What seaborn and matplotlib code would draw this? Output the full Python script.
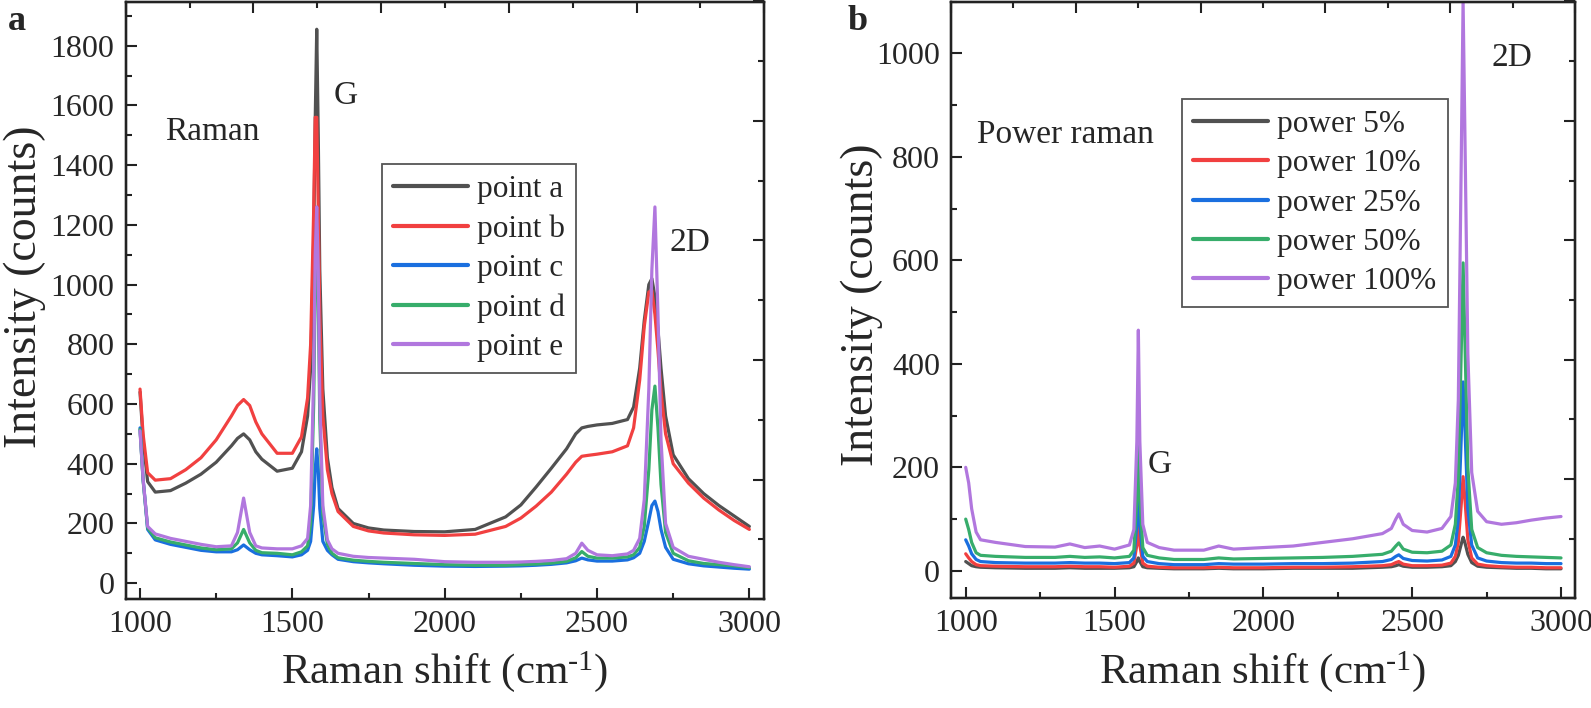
import numpy as np
import pandas as pd
import matplotlib
matplotlib.use("Agg")
import matplotlib.pyplot as plt
import seaborn as sns
from matplotlib.ticker import MultipleLocator, NullFormatter

sns.set_theme(style="ticks")
plt.rcParams['font.family'] = ['Liberation Serif', 'DejaVu Serif']
plt.rcParams['mathtext.fontset'] = 'custom'
plt.rcParams['mathtext.rm'] = 'Liberation Serif'
plt.rcParams['mathtext.it'] = 'Liberation Serif:italic'
plt.rcParams['mathtext.bf'] = 'Liberation Serif:bold'

# ---------------- Panel a data ----------------
shift_a = [1000, 1010, 1025, 1050, 1100, 1150, 1200, 1250, 1300, 1320, 1340, 1360, 1380, 1400, 1450,
           1500, 1530, 1550, 1560, 1570, 1575, 1580, 1585, 1590, 1600, 1615, 1630, 1650, 1700, 1750,
           1800, 1900, 2000, 2100, 2200, 2250, 2300, 2350, 2400, 2430, 2450, 2470, 2500, 2550, 2600,
           2620, 2640, 2655, 2670, 2680, 2690, 2700, 2710, 2725, 2750, 2800, 2850, 2900, 2950, 3000]

point_a = [640, 480, 340, 305, 310, 335, 365, 405, 460, 485, 500, 480, 440, 415, 375,
           385, 440, 560, 720, 1150, 1550, 1855, 1500, 1050, 650, 420, 320, 250, 200, 185,
           178, 173, 172, 180, 222, 262, 322, 385, 450, 500, 520, 525, 530, 535, 548,
           590, 720, 880, 1000, 1020, 960, 850, 720, 560, 430, 350, 300, 260, 225, 190]

point_b = [650, 500, 370, 345, 350, 380, 420, 480, 560, 595, 615, 595, 540, 500, 435,
           435, 490, 620, 800, 1250, 1560, 1560, 1250, 900, 560, 380, 300, 240, 190, 175,
           168, 162, 160, 164, 190, 218, 258, 305, 365, 405, 425, 428, 432, 440, 460,
           520, 680, 860, 975, 980, 900, 780, 640, 500, 400, 335, 285, 245, 210, 180]

point_c = [520, 350, 180, 145, 130, 120, 110, 105, 105, 112, 128, 112, 100, 95, 92,
           88, 95, 110, 140, 260, 380, 450, 380, 250, 140, 110, 95, 80, 72, 68,
           65, 60, 57, 56, 57, 58, 60, 63, 68, 75, 84, 78, 74, 74, 78,
           85, 100, 140, 210, 260, 275, 240, 180, 120, 80, 65, 58, 54, 50, 47]

point_d = [515, 345, 185, 152, 138, 128, 118, 112, 115, 135, 180, 135, 110, 102, 100,
           95, 105, 125, 200, 600, 1000, 1180, 950, 550, 230, 130, 100, 85, 77, 73,
           70, 66, 62, 60, 60, 62, 64, 67, 73, 85, 106, 90, 84, 84, 88,
           95, 120, 190, 380, 580, 660, 520, 330, 170, 100, 75, 66, 62, 58, 52]

point_e = [510, 350, 190, 165, 150, 140, 130, 122, 125, 170, 285, 170, 125, 118, 115,
           115, 125, 150, 260, 700, 1100, 1260, 1050, 620, 260, 145, 115, 100, 90, 86,
           84, 80, 72, 70, 70, 71, 73, 76, 82, 100, 134, 110, 95, 92, 98,
           110, 150, 280, 650, 1050, 1260, 900, 480, 200, 120, 90, 80, 70, 62, 55]

labels_a = ["point a", "point b", "point c", "point d", "point e"]

# ---------------- Panel b data ----------------
shift_b = [1000, 1010, 1020, 1035, 1050, 1100, 1200, 1300, 1350, 1400, 1450, 1500, 1550, 1565, 1575,
           1580, 1585, 1595, 1610, 1650, 1700, 1800, 1850, 1900, 2000, 2100, 2200, 2300, 2400, 2430,
           2445, 2455, 2470, 2500, 2550, 2600, 2630, 2645, 2655, 2665, 2671, 2677, 2687, 2700, 2720,
           2750, 2800, 2850, 2900, 2950, 3000]

power_5 = [18, 14, 10, 8, 7, 6, 5, 5, 6, 5, 5, 5, 6, 8, 18,
           25, 18, 8, 6, 5, 4, 4, 5, 4, 4, 5, 5, 5, 7, 8,
           10, 12, 9, 7, 7, 8, 10, 18, 30, 52, 65, 55, 32, 16, 9,
           7, 6, 5, 5, 4, 4]

power_10 = [33, 25, 18, 12, 10, 9, 8, 8, 9, 8, 8, 7, 9, 15, 50,
            90, 50, 15, 9, 7, 6, 6, 7, 6, 6, 7, 7, 8, 10, 12,
            16, 18, 13, 10, 10, 11, 15, 28, 55, 130, 182, 140, 60, 25, 13,
            10, 8, 7, 7, 6, 6]

power_25 = [60, 48, 33, 22, 18, 16, 15, 15, 16, 15, 15, 14, 16, 25, 90,
            160, 90, 28, 18, 14, 12, 12, 14, 13, 13, 14, 14, 15, 18, 22,
            28, 31, 24, 20, 19, 21, 28, 50, 100, 260, 365, 280, 120, 50, 25,
            19, 16, 15, 15, 14, 14]

power_50 = [100, 80, 55, 35, 30, 28, 26, 26, 28, 26, 27, 25, 28, 40, 140,
            250, 140, 45, 30, 25, 22, 22, 25, 23, 24, 25, 26, 28, 32, 38,
            48, 54, 42, 36, 35, 38, 50, 90, 180, 430, 595, 450, 200, 80, 45,
            35, 30, 28, 27, 26, 25]

power_100 = [200, 170, 120, 75, 60, 55, 47, 46, 52, 45, 48, 42, 50, 80, 250,
             465, 250, 90, 55, 45, 40, 40, 48, 42, 45, 48, 55, 62, 72, 82,
             100, 110, 90, 78, 75, 82, 105, 170, 330, 800, 1100, 850, 420, 190, 115,
             95, 90, 93, 98, 102, 105]

labels_b = ["power 5%", "power 10%", "power 25%", "power 50%", "power 100%"]

colors = ['#515151', '#F14040', '#1A6FDF', '#37AD6B', '#B177DE']

df_a = pd.DataFrame({
    "shift": shift_a * 5,
    "intensity": point_a + point_b + point_c + point_d + point_e,
    "series": sum([[lab] * len(shift_a) for lab in labels_a], []),
})
df_b = pd.DataFrame({
    "shift": shift_b * 5,
    "intensity": power_5 + power_10 + power_25 + power_50 + power_100,
    "series": sum([[lab] * len(shift_b) for lab in labels_b], []),
})

W, H = 1591, 708
fig = plt.figure(figsize=(W / 100, H / 100), dpi=100)
ax1 = fig.add_axes([125.7 / W, 1 - 599 / H, (764.3 - 125.7) / W, (599 - 1.5) / H])
ax2 = fig.add_axes([951 / W, 1 - 598.3 / H, (1575 - 951) / W, (598.3 - 1.5) / H])

sns.lineplot(data=df_a, x="shift", y="intensity", hue="series", hue_order=labels_a,
             palette=colors, estimator=None, sort=False, lw=2.3, ax=ax1)
sns.lineplot(data=df_b, x="shift", y="intensity", hue="series", hue_order=labels_b,
             palette=colors, estimator=None, sort=False, lw=2.3, ax=ax2)

XLABEL = "Raman shift (cm$^{\\mathregular{\u2010}\\mathregular{1}}$)"

def style_axes(ax, xlim, ylim):
    ax.set_xlim(*xlim)
    ax.set_ylim(*ylim)
    ax.xaxis.set_major_locator(MultipleLocator(500))
    ax.xaxis.set_minor_locator(MultipleLocator(250))
    ax.yaxis.set_major_locator(MultipleLocator(200))
    ax.yaxis.set_minor_locator(MultipleLocator(100))
    ax.tick_params(axis='both', which='major', direction='in', length=8, width=1.5,
                   labelsize=23, pad=8, top=False, right=False, color='#222222')
    ax.tick_params(axis='both', which='minor', direction='in', length=4.5, width=1.5,
                   top=False, right=False, color='#222222')
    for s in ax.spines.values():
        s.set_linewidth(1.6)
        s.set_color('#222222')
        s.set_visible(True)
    ax.set_xlabel(XLABEL, fontsize=31)
    ax.set_ylabel("Intensity (counts)", fontsize=33)
    ax.grid(False)
    # Frame ticks on top and right (separate 0-1 scale)
    axt = ax.twiny()
    axt.set_xlim(0, 1)
    axt.xaxis.set_major_locator(MultipleLocator(0.2))
    axt.xaxis.set_minor_locator(MultipleLocator(0.1))
    axt.xaxis.set_major_formatter(NullFormatter())
    axt.tick_params(axis='x', which='major', direction='in', length=8, width=1.5, color='#222222')
    axt.tick_params(axis='x', which='minor', direction='in', length=4.5, width=1.5, color='#222222')
    axr = ax.twinx()
    axr.set_ylim(0, 1)
    axr.yaxis.set_major_locator(MultipleLocator(0.2))
    axr.yaxis.set_minor_locator(MultipleLocator(0.1))
    axr.yaxis.set_major_formatter(NullFormatter())
    axr.tick_params(axis='y', which='major', direction='in', length=8, width=1.5, color='#222222')
    axr.tick_params(axis='y', which='minor', direction='in', length=4.5, width=1.5, color='#222222')
    for a in (axt, axr):
        for s in a.spines.values():
            s.set_linewidth(1.6)
            s.set_color('#222222')
        a.grid(False)

style_axes(ax1, (953, 3049), (-53, 1948))
style_axes(ax2, (950.6, 3047), (-53, 1100))

ax1.xaxis.set_label_coords(0.5, (599 - 672) / (599 - 1.5), transform=ax1.transAxes)
ax2.xaxis.set_label_coords(0.5, (598.3 - 672) / (598.3 - 1.5), transform=ax2.transAxes)
ax1.yaxis.set_label_coords((25 - 125.7) / (764.3 - 125.7), (599 - 287) / (599 - 1.5), transform=ax1.transAxes)
ax2.yaxis.set_label_coords((862 - 951) / (1575 - 951), (598.3 - 305) / (598.3 - 1.5), transform=ax2.transAxes)
for a in (ax1, ax2):
    a.xaxis.label.set_va('center')
    a.yaxis.label.set_va('center')

def make_legend(ax, left, top):
    handles, labs = ax.get_legend_handles_labels()
    if ax.get_legend() is not None:
        ax.get_legend().remove()
    leg = ax.legend(handles, labs, loc='upper left', bbox_to_anchor=(left / W, 1 - top / H),
                    bbox_transform=fig.transFigure, frameon=True, fancybox=False,
                    edgecolor='#555555', framealpha=1, fontsize=22.5, handlelength=2.4,
                    handletextpad=0.3, labelspacing=0.33, borderpad=0.35, borderaxespad=0)
    leg.get_frame().set_linewidth(1.3)
    for ln in leg.get_lines():
        ln.set_linewidth(3)
    leg.set_zorder(10)
    return leg

make_legend(ax1, 382, 164)
make_legend(ax2, 1182, 99)

def ftext(x, y, s, **kw):
    fig.text(x / W, 1 - y / H, s, **kw)

ftext(17, 21, "a", fontsize=26, fontweight='bold', ha='center', va='center')
ftext(858, 22, "b", fontsize=26, fontweight='bold', ha='center', va='center')
ftext(165, 132, "Raman", fontsize=24, ha='left', va='center')
ftext(346, 96, "G", fontsize=24, ha='center', va='center')
ftext(690, 243, "2D", fontsize=24, ha='center', va='center')
ftext(977, 135, "Power raman", fontsize=24, ha='left', va='center')
ftext(1160, 465, "G", fontsize=24, ha='center', va='center')
ftext(1512, 58, "2D", fontsize=24, ha='center', va='center')

fig.savefig("out.png", dpi=100)
